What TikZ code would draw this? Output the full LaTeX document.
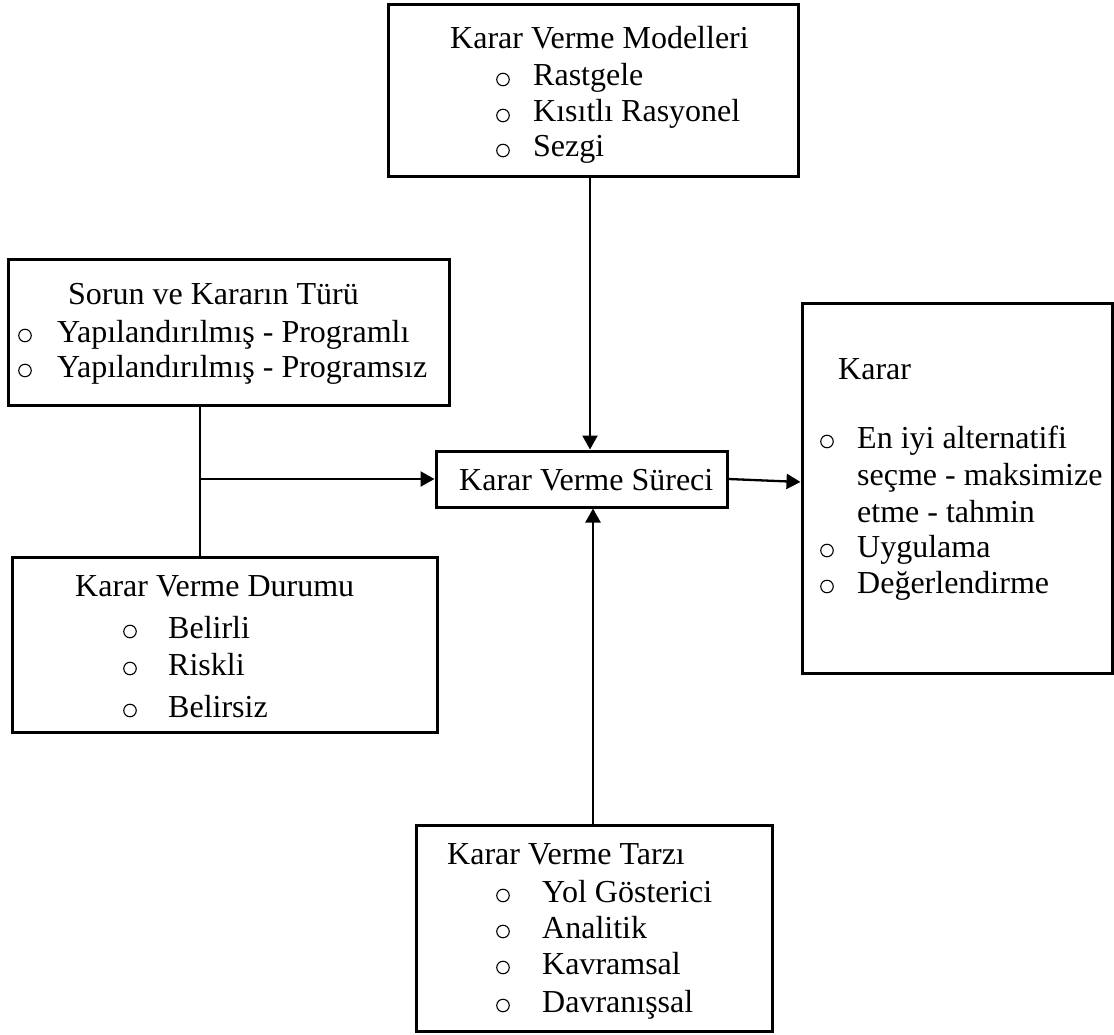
\documentclass[tikz,border=0pt]{standalone}
\usepackage{fontspec}
\setmainfont{Liberation Serif}
\usetikzlibrary{arrows.meta}
\begin{document}
\begin{tikzpicture}[x=1pt,y=-1pt,
  box/.style={draw,line width=3pt,rectangle,inner sep=0pt},
  conn/.style={line width=2.3pt},
  arr/.style={conn,-{Triangle[length=14pt,width=15pt]}},
  txt/.style={anchor=base west,inner sep=0pt,font=\fontsize{32}{36}\selectfont},
  bul/.style={circle,draw,line width=1.1pt,minimum size=12.5pt,inner sep=0pt}]
\useasboundingbox[fill=white] (0,0) rectangle (1114,1035);

% boxes
\node[box,minimum width=410pt,minimum height=172pt] (models) at (593,91) {};
\node[box,minimum width=441pt,minimum height=145pt] (sorun) at (228.5,332.5) {};
\node[box,minimum width=291pt,minimum height=56pt] (surec) at (581.5,479) {};
\node[box,minimum width=425pt,minimum height=175pt] (durum) at (224.5,644.5) {};
\node[box,minimum width=356pt,minimum height=206pt] (tarz) at (594,928) {};
\node[box,minimum width=310pt,minimum height=370pt] (karar) at (957,488) {};

% Karar Verme Modelleri
\node[txt] (m0) at (450,49) {Karar Verme Modelleri};
\node[bul] (m1b) at (503,79.5) {};
\node[txt] (m1) at (533,86) {Rastgele};
\node[bul] (m2b) at (503,115.5) {};
\node[txt] (m2) at (533,122) {Kısıtlı Rasyonel};
\node[bul] (m3b) at (503,150.5) {};
\node[txt] (m3) at (533,157) {Sezgi};

% Sorun ve Kararin Turu
\node[txt] (s0) at (68,305) {Sorun ve Kararın Türü};
\node[bul] (s1b) at (25,335.5) {};
\node[txt] (s1) at (57,342) {Yapılandırılmış - Programlı};
\node[bul] (s2b) at (25,370.5) {};
\node[txt] (s2) at (57,377) {Yapılandırılmış - Programsız};

% Karar Verme Sureci
\node[txt] (p0) at (459,490) {Karar Verme Süreci};

% Karar Verme Durumu
\node[txt] (d0) at (75,596) {Karar Verme Durumu};
\node[bul] (d1b) at (130,631.5) {};
\node[txt] (d1) at (168,638) {Belirli};
\node[bul] (d2b) at (130,668.5) {};
\node[txt] (d2) at (168,675) {Riskli};
\node[bul] (d3b) at (130,710.5) {};
\node[txt] (d3) at (168,717) {Belirsiz};

% Karar Verme Tarzi
\node[txt] (t0) at (447,864) {Karar Verme Tarzı};
\node[bul] (t1b) at (503,895.5) {};
\node[txt] (t1) at (542,902) {Yol Gösterici};
\node[bul] (t2b) at (503,931.5) {};
\node[txt] (t2) at (542,938) {Analitik};
\node[bul] (t3b) at (503,967.5) {};
\node[txt] (t3) at (542,974) {Kavramsal};
\node[bul] (t4b) at (503,1005.5) {};
\node[txt] (t4) at (542,1012) {Davranışsal};

% Karar
\node[txt] (k0) at (838,379) {Karar};
\node[bul] (k1b) at (827,441.5) {};
\node[txt] (k1) at (857,448) {En iyi alternatifi};
\node[txt] (k1c) at (857,485) {seçme - maksimize};
\node[txt] (k1d) at (857,522) {etme - tahmin};
\node[bul] (k2b) at (827,550.5) {};
\node[txt] (k2) at (857,557) {Uygulama};
\node[bul] (k3b) at (827,586.5) {};
\node[txt] (k3) at (857,593) {Değerlendirme};

% connectors
\coordinate (j) at (200,479);
\draw[conn] (sorun.south -| j) -- (durum.north -| j);
\draw[arr] (j) -- (surec.west);
\draw[arr] ([xshift=-3pt]models.south) -- ([xshift=-3pt]models.south |- surec.north);
\draw[arr] ([xshift=-1pt]tarz.north) -- ([xshift=-1pt]tarz.north |- surec.south);
\draw[arr] (surec.east) -- ([yshift=-3pt]karar.west |- surec.east);
\end{tikzpicture}
\end{document}
